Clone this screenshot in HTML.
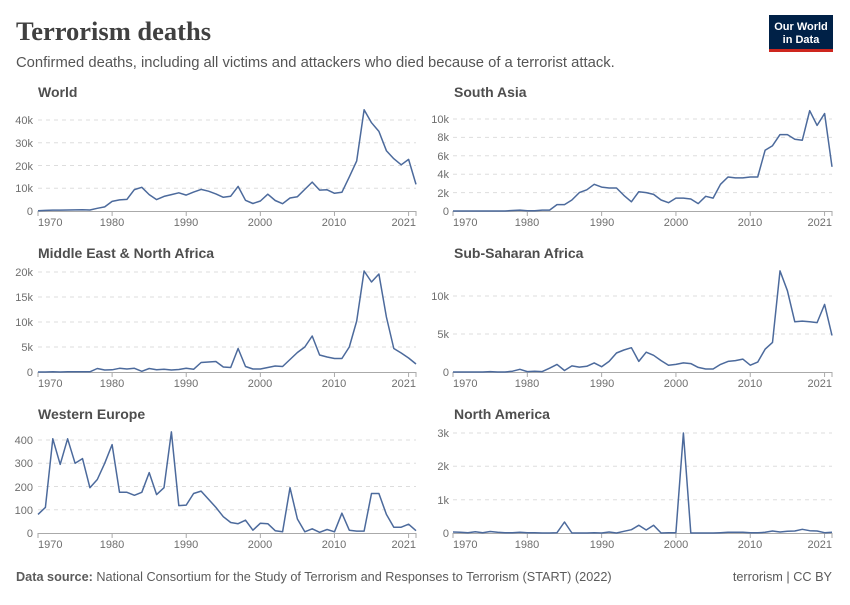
<!DOCTYPE html>
<html><head><meta charset="utf-8"><style>
body{margin:0;background:#fff;width:850px;height:600px;overflow:hidden;font-family:"Liberation Sans",sans-serif}
</style></head><body>
<svg id="s" width="850" height="600" xmlns="http://www.w3.org/2000/svg" font-family="Liberation Sans, sans-serif">
<text x="16" y="40" font-family="Liberation Serif, serif" font-weight="bold" font-size="26.5" fill="#404040">Terrorism deaths</text>
<text x="16" y="67" font-size="14.8" fill="#555">Confirmed deaths, including all victims and attackers who died because of a terrorist attack.</text>
<rect x="769" y="15" width="64" height="35" fill="#002147"/>
<rect x="769" y="49" width="64" height="3" fill="#ce261e"/>
<text x="801" y="30" font-size="11" font-weight="bold" fill="#fff" text-anchor="middle">Our World</text>
<text x="801" y="43" font-size="11" font-weight="bold" fill="#fff" text-anchor="middle">in Data</text>
<g font-size="14" font-weight="bold" fill="#4e4e4e">
<text x="38" y="97">World</text><text x="454" y="97">South Asia</text>
<text x="38" y="258">Middle East &amp; North Africa</text><text x="454" y="258">Sub-Saharan Africa</text>
<text x="38" y="419">Western Europe</text><text x="454" y="419">North America</text>
</g>
<text x="16" y="581" font-size="12.7" fill="#5b5b5b"><tspan font-weight="bold">Data source:</tspan> National Consortium for the Study of Terrorism and Responses to Terrorism (START) (2022)</text>
<text x="832" y="581" font-size="12.7" fill="#5b5b5b" text-anchor="end">terrorism | CC BY</text>
<g id="g" font-size="11" fill="#666"></g>
<g id="labels" font-size="11" fill="#6e6e6e">
<text x="33" y="215" text-anchor="end">0</text><text x="33" y="192" text-anchor="end">10k</text><text x="33" y="170" text-anchor="end">20k</text><text x="33" y="147" text-anchor="end">30k</text><text x="33" y="124" text-anchor="end">40k</text>
<text x="38" y="226">1970</text><text x="112" y="226" text-anchor="middle">1980</text><text x="186" y="226" text-anchor="middle">1990</text><text x="260" y="226" text-anchor="middle">2000</text><text x="334" y="226" text-anchor="middle">2010</text><text x="416" y="226" text-anchor="end">2021</text>
<text x="449" y="215" text-anchor="end">0</text><text x="449" y="197" text-anchor="end">2k</text><text x="449" y="178" text-anchor="end">4k</text><text x="449" y="160" text-anchor="end">6k</text><text x="449" y="141" text-anchor="end">8k</text><text x="449" y="123" text-anchor="end">10k</text>
<text x="453" y="226">1970</text><text x="527" y="226" text-anchor="middle">1980</text><text x="602" y="226" text-anchor="middle">1990</text><text x="676" y="226" text-anchor="middle">2000</text><text x="750" y="226" text-anchor="middle">2010</text><text x="832" y="226" text-anchor="end">2021</text>
<text x="33" y="376" text-anchor="end">0</text><text x="33" y="351" text-anchor="end">5k</text><text x="33" y="326" text-anchor="end">10k</text><text x="33" y="301" text-anchor="end">15k</text><text x="33" y="276" text-anchor="end">20k</text>
<text x="38" y="387">1970</text><text x="112" y="387" text-anchor="middle">1980</text><text x="186" y="387" text-anchor="middle">1990</text><text x="260" y="387" text-anchor="middle">2000</text><text x="334" y="387" text-anchor="middle">2010</text><text x="416" y="387" text-anchor="end">2021</text>
<text x="449" y="376" text-anchor="end">0</text><text x="449" y="338" text-anchor="end">5k</text><text x="449" y="300" text-anchor="end">10k</text>
<text x="453" y="387">1970</text><text x="527" y="387" text-anchor="middle">1980</text><text x="602" y="387" text-anchor="middle">1990</text><text x="676" y="387" text-anchor="middle">2000</text><text x="750" y="387" text-anchor="middle">2010</text><text x="832" y="387" text-anchor="end">2021</text>
<text x="33" y="537" text-anchor="end">0</text><text x="33" y="514" text-anchor="end">100</text><text x="33" y="491" text-anchor="end">200</text><text x="33" y="467" text-anchor="end">300</text><text x="33" y="444" text-anchor="end">400</text>
<text x="38" y="548">1970</text><text x="112" y="548" text-anchor="middle">1980</text><text x="186" y="548" text-anchor="middle">1990</text><text x="260" y="548" text-anchor="middle">2000</text><text x="334" y="548" text-anchor="middle">2010</text><text x="416" y="548" text-anchor="end">2021</text>
<text x="449" y="537" text-anchor="end">0</text><text x="449" y="504" text-anchor="end">1k</text><text x="449" y="470" text-anchor="end">2k</text><text x="449" y="437" text-anchor="end">3k</text>
<text x="453" y="548">1970</text><text x="527" y="548" text-anchor="middle">1980</text><text x="602" y="548" text-anchor="middle">1990</text><text x="676" y="548" text-anchor="middle">2000</text><text x="750" y="548" text-anchor="middle">2010</text><text x="832" y="548" text-anchor="end">2021</text>
</g>
</svg>
<script>
var P=[
 {x0:38,x1:416,y0:211,yt:120,vt:40000,ticks:[10000,20000,30000,40000],
  d:[100,250,400,400,450,500,550,450,1200,1800,4200,4900,5100,9400,10400,7200,5000,6400,7200,8000,7000,8300,9500,8700,7500,6000,6500,10800,4700,3300,4400,7400,4600,3200,5700,6300,9500,12700,9200,9300,7800,8200,15000,22000,44500,38800,35000,26500,23000,20300,22700,11700]},
 {x0:453,x1:832,y0:211,yt:119,vt:10000,ticks:[2000,4000,6000,8000,10000],
  d:[0,0,0,0,0,0,0,0,50,100,20,20,100,100,700,700,1200,2000,2300,2900,2600,2500,2500,1700,1000,2100,2000,1800,1200,900,1400,1400,1300,800,1600,1400,2900,3700,3600,3600,3700,3700,6600,7100,8300,8300,7800,7700,10900,9300,10600,4800]},
 {x0:38,x1:416,y0:372,yt:272,vt:20000,ticks:[5000,10000,15000,20000],
  d:[0,0,50,0,50,50,50,50,700,400,450,750,600,750,150,700,450,550,400,500,750,550,1900,2000,2100,1000,900,4700,1100,600,600,900,1200,1100,2500,3900,5000,7200,3400,3000,2700,2700,5000,10200,20200,18000,19600,11000,4700,3800,2800,1600]},
 {x0:453,x1:832,y0:372,yt:296,vt:10000,ticks:[5000,10000],
  d:[0,0,0,0,0,50,0,0,100,350,50,100,50,500,1000,200,800,650,750,1200,700,1400,2500,2900,3200,1400,2600,2200,1500,900,1000,1200,1100,600,400,400,1000,1400,1500,1700,900,1300,3000,3900,13300,10700,6600,6700,6600,6500,8900,4800]},
 {x0:38,x1:416,y0:533,yt:440,vt:400,ticks:[100,200,300,400],
  d:[80,110,405,295,405,300,320,195,230,300,380,175,175,162,175,260,165,195,435,118,120,170,180,145,110,70,45,40,55,12,42,40,10,5,195,60,5,18,3,15,5,85,12,8,8,170,170,80,25,25,38,10]},
 {x0:453,x1:832,y0:533,yt:433,vt:3000,ticks:[1000,2000,3000],
  d:[30,20,5,40,10,45,20,10,5,20,10,5,0,0,10,330,0,0,0,10,0,30,0,50,100,230,90,230,0,10,10,3000,0,0,0,0,10,20,20,20,5,5,20,60,30,50,60,110,70,60,10,20]}
];
var s="";
P.forEach(function(p){
 var k=(p.y0-p.yt)/p.vt, st=(p.x1-p.x0)/51;
 p.ticks.forEach(function(t){var y=(p.y0-t*k).toFixed(1);
  s+='<line x1="'+p.x0+'" x2="'+p.x1+'" y1="'+y+'" y2="'+y+'" stroke="#ddd" stroke-dasharray="4,4"/>';});
 s+='<line x1="'+p.x0+'" x2="'+p.x1+'" y1="'+(p.y0+0.5)+'" y2="'+(p.y0+0.5)+'" stroke="#aaa"/>';
 for(var yr=1970;yr<=2021;yr++){if(yr%10==0||yr==2021){var x=p.x0+(yr-1970)*st;
  s+='<line x1="'+x+'" x2="'+x+'" y1="'+p.y0+'" y2="'+(p.y0+5)+'" stroke="#aaa"/>';}}
 var pts=p.d.map(function(v,i){return (p.x0+i*st).toFixed(1)+','+(p.y0-v*k).toFixed(1)}).join(' ');
 s+='<polyline points="'+pts+'" fill="none" stroke="#4c6a9c" stroke-width="1.5" stroke-linejoin="round"/>';
});
document.getElementById('g').innerHTML=s;
</script>
</body></html>
